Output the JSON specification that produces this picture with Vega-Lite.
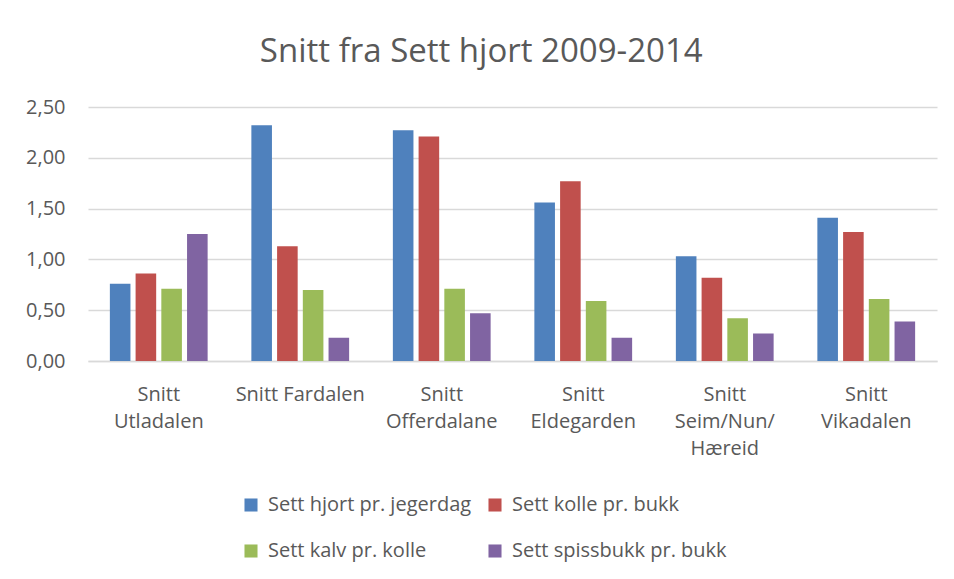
{
  "$schema": "https://vega.github.io/schema/vega-lite/v6.json",
  "width": 849,
  "height": 254,
  "autosize": {"type": "none"},
  "padding": {"left": 88, "top": 107, "right": 17, "bottom": 218},
  "background": "white",
  "title": {
    "text": "Snitt fra Sett hjort 2009-2014",
    "fontSize": 33,
    "font": "Open Sans",
    "fontWeight": "normal",
    "color": "#595959",
    "anchor": "middle",
    "frame": "bounds",
    "offset": 28
  },
  "data": {
    "values": [
      {"omrade": "Snitt Utladalen", "serie": "Sett hjort pr. jegerdag", "verdi": 0.76},
      {"omrade": "Snitt Utladalen", "serie": "Sett kolle pr. bukk", "verdi": 0.86},
      {"omrade": "Snitt Utladalen", "serie": "Sett kalv pr. kolle", "verdi": 0.71},
      {"omrade": "Snitt Utladalen", "serie": "Sett spissbukk pr. bukk", "verdi": 1.25},
      {"omrade": "Snitt Fardalen", "serie": "Sett hjort pr. jegerdag", "verdi": 2.32},
      {"omrade": "Snitt Fardalen", "serie": "Sett kolle pr. bukk", "verdi": 1.13},
      {"omrade": "Snitt Fardalen", "serie": "Sett kalv pr. kolle", "verdi": 0.70},
      {"omrade": "Snitt Fardalen", "serie": "Sett spissbukk pr. bukk", "verdi": 0.23},
      {"omrade": "Snitt Offerdalane", "serie": "Sett hjort pr. jegerdag", "verdi": 2.27},
      {"omrade": "Snitt Offerdalane", "serie": "Sett kolle pr. bukk", "verdi": 2.21},
      {"omrade": "Snitt Offerdalane", "serie": "Sett kalv pr. kolle", "verdi": 0.71},
      {"omrade": "Snitt Offerdalane", "serie": "Sett spissbukk pr. bukk", "verdi": 0.47},
      {"omrade": "Snitt Eldegarden", "serie": "Sett hjort pr. jegerdag", "verdi": 1.56},
      {"omrade": "Snitt Eldegarden", "serie": "Sett kolle pr. bukk", "verdi": 1.77},
      {"omrade": "Snitt Eldegarden", "serie": "Sett kalv pr. kolle", "verdi": 0.59},
      {"omrade": "Snitt Eldegarden", "serie": "Sett spissbukk pr. bukk", "verdi": 0.23},
      {"omrade": "Snitt Seim/Nun/Hæreid", "serie": "Sett hjort pr. jegerdag", "verdi": 1.03},
      {"omrade": "Snitt Seim/Nun/Hæreid", "serie": "Sett kolle pr. bukk", "verdi": 0.82},
      {"omrade": "Snitt Seim/Nun/Hæreid", "serie": "Sett kalv pr. kolle", "verdi": 0.42},
      {"omrade": "Snitt Seim/Nun/Hæreid", "serie": "Sett spissbukk pr. bukk", "verdi": 0.27},
      {"omrade": "Snitt Vikadalen", "serie": "Sett hjort pr. jegerdag", "verdi": 1.41},
      {"omrade": "Snitt Vikadalen", "serie": "Sett kolle pr. bukk", "verdi": 1.27},
      {"omrade": "Snitt Vikadalen", "serie": "Sett kalv pr. kolle", "verdi": 0.61},
      {"omrade": "Snitt Vikadalen", "serie": "Sett spissbukk pr. bukk", "verdi": 0.39}
    ]
  },
  "mark": {"type": "bar"},
  "encoding": {
    "x": {
      "field": "omrade",
      "type": "nominal",
      "sort": null,
      "scale": {"paddingInner": 0, "paddingOuter": 0},
      "axis": {
        "title": null,
        "labelAngle": 0,
        "labelFont": "Open Sans",
        "labelFontSize": 20,
        "labelColor": "#595959",
        "labelPadding": 33,
        "labelLineHeight": 27,
        "labelBaseline": "middle",
        "ticks": false,
        "domainColor": "#D9D9D9",
        "domainWidth": 1.5,
        "grid": false,
        "labelExpr": "datum.value == 'Snitt Seim/Nun/Hæreid' ? ['Snitt', 'Seim/Nun/', 'Hæreid'] : datum.value == 'Snitt Fardalen' ? datum.value : split(datum.value, ' ')"
      }
    },
    "xOffset": {
      "field": "serie",
      "type": "nominal",
      "sort": null,
      "scale": {"paddingInner": 0.2, "paddingOuter": 0.85}
    },
    "y": {
      "field": "verdi",
      "type": "quantitative",
      "scale": {"domain": [0, 2.5], "nice": false},
      "axis": {
        "title": null,
        "values": [0, 0.5, 1, 1.5, 2, 2.5],
        "labelExpr": "replace(format(datum.value, '.2f'), '.', ',')",
        "labelFont": "Open Sans",
        "labelFontSize": 20,
        "labelColor": "#595959",
        "labelPadding": 23,
        "ticks": false,
        "domain": false,
        "gridColor": "#D9D9D9",
        "gridWidth": 1.5
      }
    },
    "color": {
      "field": "serie",
      "type": "nominal",
      "sort": null,
      "scale": {
        "domain": ["Sett hjort pr. jegerdag", "Sett kolle pr. bukk", "Sett kalv pr. kolle", "Sett spissbukk pr. bukk"],
        "range": ["#4F81BD", "#C0504D", "#9BBB59", "#8064A2"]
      },
      "legend": {
        "title": null,
        "orient": "none",
        "legendX": 153,
        "legendY": 388,
        "direction": "horizontal",
        "columns": 2,
        "columnPadding": 13,
        "rowPadding": 26,
        "symbolType": "square",
        "symbolSize": 170,
        "symbolStrokeWidth": 0,
        "labelFont": "Open Sans",
        "labelFontSize": 20,
        "labelColor": "#595959",
        "labelOffset": 7,
        "labelLimit": 300
      }
    }
  },
  "config": {
    "view": {"stroke": null}
  }
}
